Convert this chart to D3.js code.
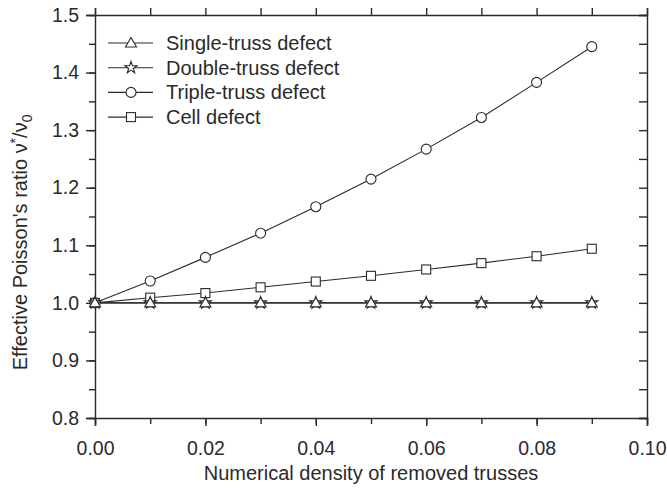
<!DOCTYPE html>
<html>
<head>
<meta charset="utf-8">
<script src="https://cdn.jsdelivr.net/npm/d3@7"></script>
<style>
  body { margin: 0; background: #fff; }
  text { font-family: "Liberation Sans", Arial, sans-serif; fill: #2a2a2a; }
</style>
</head>
<body>
<div id="chart"></div>
<script>
// Data
const density = [0.00, 0.01, 0.02, 0.03, 0.04, 0.05, 0.06, 0.07, 0.08, 0.09];
const singleTruss = [1.000, 1.000, 1.000, 1.000, 1.000, 1.000, 1.000, 1.000, 1.000, 1.000];
const doubleTruss = [1.000, 1.000, 1.000, 1.000, 1.000, 1.000, 1.000, 1.000, 1.000, 1.000];
const tripleTruss = [1.000, 1.038, 1.079, 1.121, 1.167, 1.215, 1.267, 1.322, 1.383, 1.445];
const cellDefect = [1.000, 1.009, 1.017, 1.027, 1.037, 1.047, 1.058, 1.069, 1.081, 1.094];

const xTicks = [0.00, 0.02, 0.04, 0.06, 0.08, 0.10];
const yTicks = [0.8, 0.9, 1.0, 1.1, 1.2, 1.3, 1.4, 1.5];

const series = [
    { name: "Single-truss defect", values: singleTruss, marker: "triangle" },
    { name: "Double-truss defect", values: doubleTruss, marker: "star" },
    { name: "Triple-truss defect", values: tripleTruss, marker: "circle" },
    { name: "Cell defect", values: cellDefect, marker: "square" }
];

const width = 667, height = 492;
const margin = { top: 15, right: 20, bottom: 74, left: 95 };
const ink = "#2a2a2a";

const svg = d3.select("#chart")
    .append("svg")
    .attr("width", width)
    .attr("height", height);

const x = d3.scaleLinear().domain([0, 0.10]).range([margin.left, width - margin.right]);
const y = d3.scaleLinear().domain([0.8, 1.5]).range([height - margin.bottom, margin.top]);

// Minor ticks
const xMinor = d3.range(0, 0.1001, 0.01);
const yMinor = d3.range(0.8, 1.5001, 0.05);

const noLabel = () => "";

// Bottom axis
svg.append("g")
    .attr("transform", `translate(0,${y(0.8)})`)
    .call(d3.axisBottom(x).tickValues(xMinor).tickSize(6).tickFormat(noLabel))
    .call(g => g.select(".domain").remove());
svg.append("g")
    .attr("class", "xaxis")
    .attr("transform", `translate(0,${y(0.8)})`)
    .call(d3.axisBottom(x).tickValues(xTicks).tickSize(8).tickPadding(15).tickFormat(d3.format(".2f")));

// Top axis (ticks outward)
svg.append("g")
    .attr("transform", `translate(0,${y(1.5)})`)
    .call(d3.axisTop(x).tickValues(xMinor).tickSize(7).tickFormat(noLabel));

// Left axis
svg.append("g")
    .attr("transform", `translate(${x(0)},0)`)
    .call(d3.axisLeft(y).tickValues(yMinor).tickSize(6).tickFormat(noLabel))
    .call(g => g.select(".domain").remove());
svg.append("g")
    .attr("class", "yaxis")
    .attr("transform", `translate(${x(0)},0)`)
    .call(d3.axisLeft(y).tickValues(yTicks).tickSize(9).tickPadding(7).tickFormat(d3.format(".1f")));

// Right axis (ticks inward)
svg.append("g")
    .attr("transform", `translate(${x(0.1)},0)`)
    .call(d3.axisRight(y).tickValues(yMinor).tickSize(-8).tickFormat(noLabel));

svg.selectAll(".domain, .tick line")
    .attr("stroke", ink)
    .attr("stroke-width", 1.4);
svg.selectAll(".tick text")
    .attr("font-size", 19.5)
    .style("fill", ink);

// Axis titles
svg.append("text")
    .attr("x", x(0.05))
    .attr("y", 480)
    .attr("text-anchor", "middle")
    .attr("font-size", 20)
    .text("Numerical density of removed trusses");

const yTitle = svg.append("text")
    .attr("transform", `translate(27,${y(1.105)}) rotate(-90)`)
    .attr("text-anchor", "middle")
    .attr("font-size", 20);
yTitle.append("tspan").text("Effective Poisson's ratio ν");
yTitle.append("tspan").attr("dy", -7).attr("font-size", 14).text("*");
yTitle.append("tspan").attr("dy", 7).text("/ν");
yTitle.append("tspan").attr("dy", 5).attr("font-size", 14).text("0");

// Marker shapes
const star = d3.symbol().type(d3.symbolStar).size(45);
function drawMarker(g, type) {
    if (type === "circle") {
        g.append("circle").attr("r", 5);
    } else if (type === "square") {
        g.append("rect").attr("x", -4.5).attr("y", -4.5).attr("width", 9).attr("height", 9);
    } else if (type === "triangle") {
        g.append("path").attr("d", "M0,-5.5L5.5,4L-5.5,4Z");
    } else if (type === "star") {
        g.append("path").attr("d", star());
    }
    g.selectAll("*")
        .attr("fill", "#fff")
        .attr("stroke", ink)
        .attr("stroke-width", 1.1);
}

const line = d3.line()
    .x((d, i) => x(density[i]))
    .y(d => y(d));

// Lines then markers (drawn in reverse so triangles/stars sit on top)
const seriesG = svg.append("g");
series.slice().reverse().forEach(s => {
    seriesG.append("path")
        .attr("d", line(s.values))
        .attr("fill", "none")
        .attr("stroke", ink)
        .attr("stroke-width", 1.1);
});
series.slice().reverse().forEach(s => {
    s.values.forEach((v, i) => {
        const m = seriesG.append("g")
            .attr("transform", `translate(${x(density[i])},${y(v)})`);
        drawMarker(m, s.marker);
    });
});

// Legend
const legend = svg.append("g");
series.forEach((s, i) => {
    const row = legend.append("g")
        .attr("transform", `translate(108,${43 + i * 24.7})`);
    row.append("line")
        .attr("x1", 0).attr("x2", 45)
        .attr("stroke", ink)
        .attr("stroke-width", 1.1);
    const m = row.append("g").attr("transform", "translate(23,0)");
    drawMarker(m, s.marker);
    row.append("text")
        .attr("x", 58)
        .attr("dy", "0.35em")
        .attr("font-size", 20)
        .text(s.name);
});
</script>
</body>
</html>
